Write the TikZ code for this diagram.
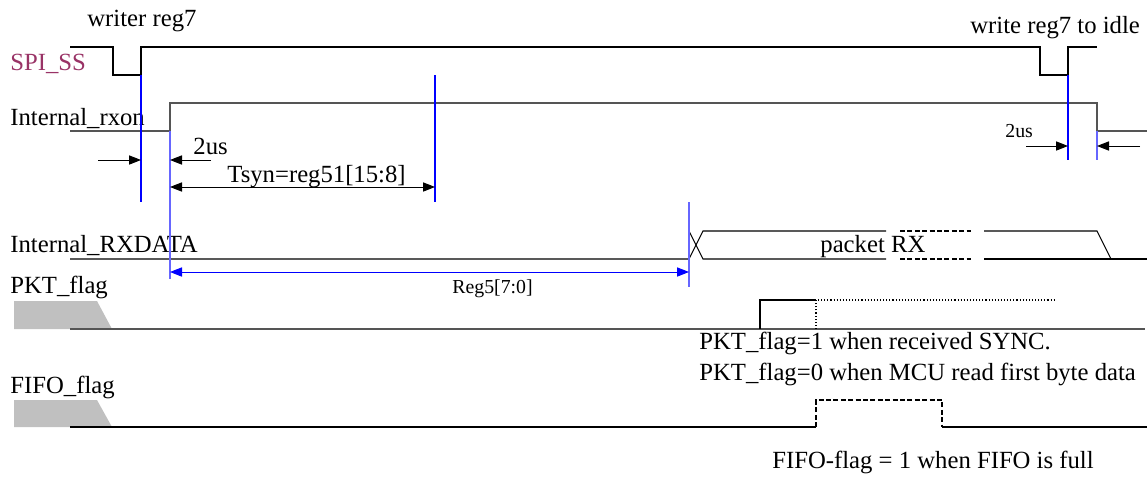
\documentclass[tikz,border=0pt]{standalone}
\usepackage{fontspec}
\setmainfont{Liberation Serif}
\usetikzlibrary{arrows.meta}

\definecolor{ssred}{RGB}{153,51,102}
\definecolor{sig}{RGB}{85,85,85}
\definecolor{padgray}{RGB}{192,192,192}

\begin{document}
\begin{tikzpicture}[
  x=0.5pt, y=-0.5pt,
  lbl/.style={anchor=base west, inner sep=0pt, font=\fontsize{12.35}{14}\selectfont},
  small/.style={lbl, font=\fontsize{9.9}{12}\selectfont},
  wave/.style={line width=0.55pt, black},
  gwave/.style={line width=0.7pt, sig},
  vmark/.style={line width=0.6pt, blue},
  lmark/.style={line width=0.9pt, blue!60},
  fdash/.style={dash pattern=on 2.5pt off 1.2pt},
  tip/.tip={Triangle[length=6pt,width=4.6pt]},
  dim/.style={line width=0.5pt, -tip},
  ddim/.style={line width=0.5pt, tip-tip},
  pad/.style={fill=padgray, draw=none},
]
\useasboundingbox (0,0) rectangle (1147,477);

% signal names
\node[lbl, text=ssred] (ssname) at (10,70) {SPI\_SS};
\node[lbl] (rxonname) at (10,125) {Internal\_rxon};
\node[lbl] (dataname) at (10,252) {Internal\_RXDATA};
\node[lbl] (pktname)  at (10,293) {PKT\_flag};
\node[lbl] (fifoname) at (10,393) {FIFO\_flag};

% notes
\node[lbl] (wrnote)   at (87,26)   {writer reg7};
\node[lbl] (idlenote) at (970,33)  {write reg7 to idle};
\node[lbl] (pktnote1) at (699,349) {PKT\_flag=1 when received SYNC.};
\node[lbl] (pktnote2) at (699,380) {PKT\_flag=0 when MCU read first byte data};
\node[lbl] (fifonote) at (772,468) {FIFO-flag = 1 when FIFO is full};

% waveforms
\draw[wave] (70,47) -| (113,75) -| (141,47) -| (1040,75) -| (1068,47) -- (1097,47);
\draw[gwave] (70,131) -| (170,103) -| (1097,131) -- (1147,131);

\draw[wave] (70,259) -- (689,259) -- (703,231) -- (886,231);
\draw[wave] (689,231) -- (703,259) -- (886,259);
\draw[wave, fdash] (900,231) -- (971,231) (900,259) -- (971,259);
\draw[wave] (984,231) -- (1097,231) -- (1111,259);
\draw[wave] (984,259) -- (1147,259);
\node[lbl] (pktrx) at (820,252) {packet RX};

\fill[pad] (14,301) -- (97,301) -- (112,329) -- (14,329) -- cycle;
\draw[gwave] (70,329) -- (1145,329);
\draw[wave] (760,329) |- (816,300);
\draw[wave, densely dotted] (816,329) |- (1055,300);

\fill[pad] (14,400) -- (97,400) -- (112,427) -- (14,427) -- cycle;
\draw[wave] (70,427) -- (816,427);
\draw[wave, fdash] (816,427) |- (942,400) -- (942,427);
\draw[wave] (942,427) -- (1147,427);

% timing markers
\coordinate (ssup)  at (141,0);
\coordinate (rxon)  at (170,0);
\coordinate (tsyn)  at (435,0);
\coordinate (sync)  at (689,0);
\coordinate (ssup2) at (1068,0);
\coordinate (rxoff) at (1097,0);

\draw[vmark] (ssup |- 0,75) -- (ssup |- 0,202);
\draw[lmark] (rxon |- 0,131) -- (rxon |- 0,279);
\draw[vmark] (tsyn |- 0,75) -- (tsyn |- 0,202);
\draw[lmark] (sync |- 0,202) -- (sync |- 0,287);
\draw[vmark] (ssup2 |- 0,75) -- (ssup2 |- 0,160);
\draw[lmark] (rxoff |- 0,131) -- (rxoff |- 0,160);

\draw[dim] (98,160) -- (ssup |- 0,160);
\draw[dim] (211,160) -- (rxon |- 0,160);
\node[lbl] (us1) at (193,154) {2us};
\draw[ddim] (rxon |- 0,187) -- (tsyn |- 0,187);
\node[lbl] (tsynlbl) at (227,182) {Tsyn=reg51[15:8]};

\draw[dim] (1026,146) -- (ssup2 |- 0,146);
\draw[dim] (1140,146) -- (rxoff |- 0,146);
\node[small] (us2) at (1005,137) {2us};

\draw[ddim, blue] (rxon |- 0,272) -- (sync |- 0,272);
\node[small] (reglbl) at (452,293) {Reg5[7:0]};

\end{tikzpicture}
\end{document}
